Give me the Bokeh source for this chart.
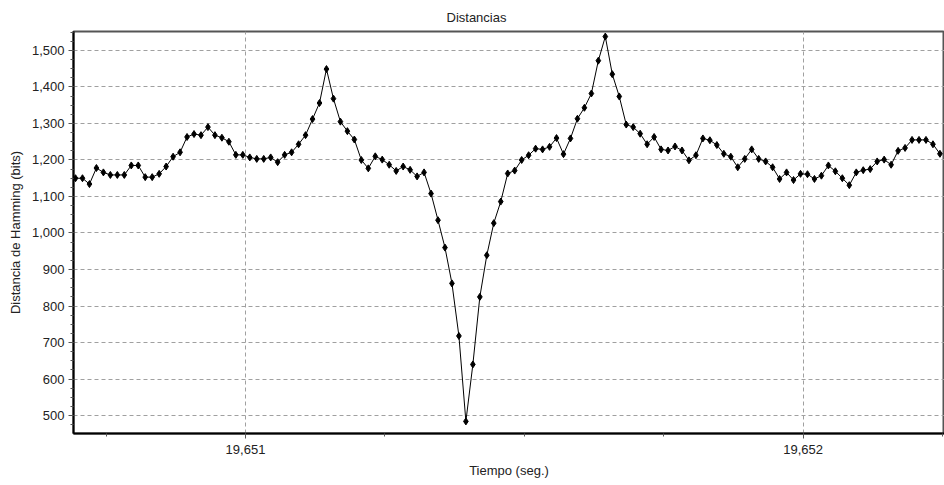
from bokeh.plotting import figure
from bokeh.models import Range1d, SingleIntervalTicker, NumeralTickFormatter, CustomJSTickFormatter, Title
from bokeh.embed import file_html
from bokeh.resources import INLINE

# Sampling grid of the time series (seconds)
T0 = 19.6506952
DT = 0.0000125

# Hamming distance values (bits)
distancia = [
    1150, 1150, 1134, 1178, 1166, 1159, 1159, 1159, 1185, 1185, 1153, 1153, 1162, 1182, 1209, 1221,
    1263, 1271, 1268, 1290, 1268, 1261, 1250, 1214, 1214, 1207, 1203, 1203, 1207, 1194, 1214,
    1221, 1243, 1268, 1312, 1356, 1449, 1368, 1305, 1279, 1256, 1200, 1177, 1210, 1201, 1187,
    1170, 1182, 1173, 1155, 1166, 1108, 1035,
    960, 862, 718, 484, 640, 825, 939, 1027, 1086,
    1163, 1171, 1200, 1213, 1231, 1229, 1236, 1260, 1216, 1259, 1313, 1343, 1382, 1472, 1538,
    1435, 1374, 1297, 1290, 1272, 1243, 1263, 1229, 1226, 1237, 1226, 1199, 1213, 1259,
    1254, 1241, 1217, 1209, 1180, 1203, 1229, 1203, 1196, 1180, 1148, 1166, 1145, 1162, 1161,
    1148, 1157, 1185, 1169, 1150, 1131, 1166, 1172, 1175, 1196, 1201, 1187, 1225, 1233, 1255,
    1255, 1255, 1243, 1217,
]
tiempo = [T0 + i * DT for i in range(len(distancia))]

TITLE = "Distancias"
X_LABEL = "Tiempo (seg.)"
Y_LABEL = "Distancia de Hamming (bits)"

FONT = "Liberation Sans"
TXT = "#222222"

p = figure(width=944, height=485, output_backend="svg", toolbar_location=None,
           x_range=Range1d(19.6506916, 19.6522534), y_range=Range1d(450.8, 1551.9),
           min_border_left=73, min_border_right=0, min_border_top=0, min_border_bottom=52,
           background_fill_color="white", border_fill_color="white")

p.title = Title(text=TITLE, align="left", offset=373, standoff=14, text_font=FONT,
                text_font_size="13px", text_font_style="normal", text_color=TXT)

p.line(tiempo, distancia, line_color="black", line_width=1)
p.scatter(tiempo, distancia, marker="diamond", size=7, fill_color="black", line_color="black")

p.xaxis.ticker = SingleIntervalTicker(interval=0.001, num_minor_ticks=4)
p.yaxis.ticker = SingleIntervalTicker(interval=100, num_minor_ticks=4)
p.xaxis.formatter = CustomJSTickFormatter(code="return tick.toFixed(3).replace('.', ',');")
p.yaxis.formatter = NumeralTickFormatter(format="0,0")

p.xaxis.axis_label = X_LABEL
p.yaxis.axis_label = Y_LABEL

for ax in (p.xaxis, p.yaxis):
    ax.axis_line_color = "black"
    ax.axis_line_width = 2
    ax.major_tick_line_color = "#555555"
    ax.minor_tick_line_color = "#555555"
    ax.major_tick_out = 5
    ax.major_tick_in = 0
    ax.minor_tick_out = 3
    ax.minor_tick_in = 0
    ax.major_label_text_font = FONT
    ax.major_label_text_font_size = "13px"
    ax.major_label_text_color = TXT
    ax.axis_label_text_font = FONT
    ax.axis_label_text_font_size = "13px"
    ax.axis_label_text_font_style = "normal"
    ax.axis_label_text_color = TXT

p.xaxis.major_label_standoff = 6
p.xaxis.axis_label_standoff = 6
p.yaxis.major_label_standoff = 4
p.yaxis.axis_label_standoff = 6

p.grid.grid_line_color = "#a0a0a0"
p.grid.grid_line_dash = "4 3"
p.grid.grid_line_width = 1

p.outline_line_color = "#555555"
p.outline_line_width = 2

open("out.html", "w").write(file_html(p, INLINE))
